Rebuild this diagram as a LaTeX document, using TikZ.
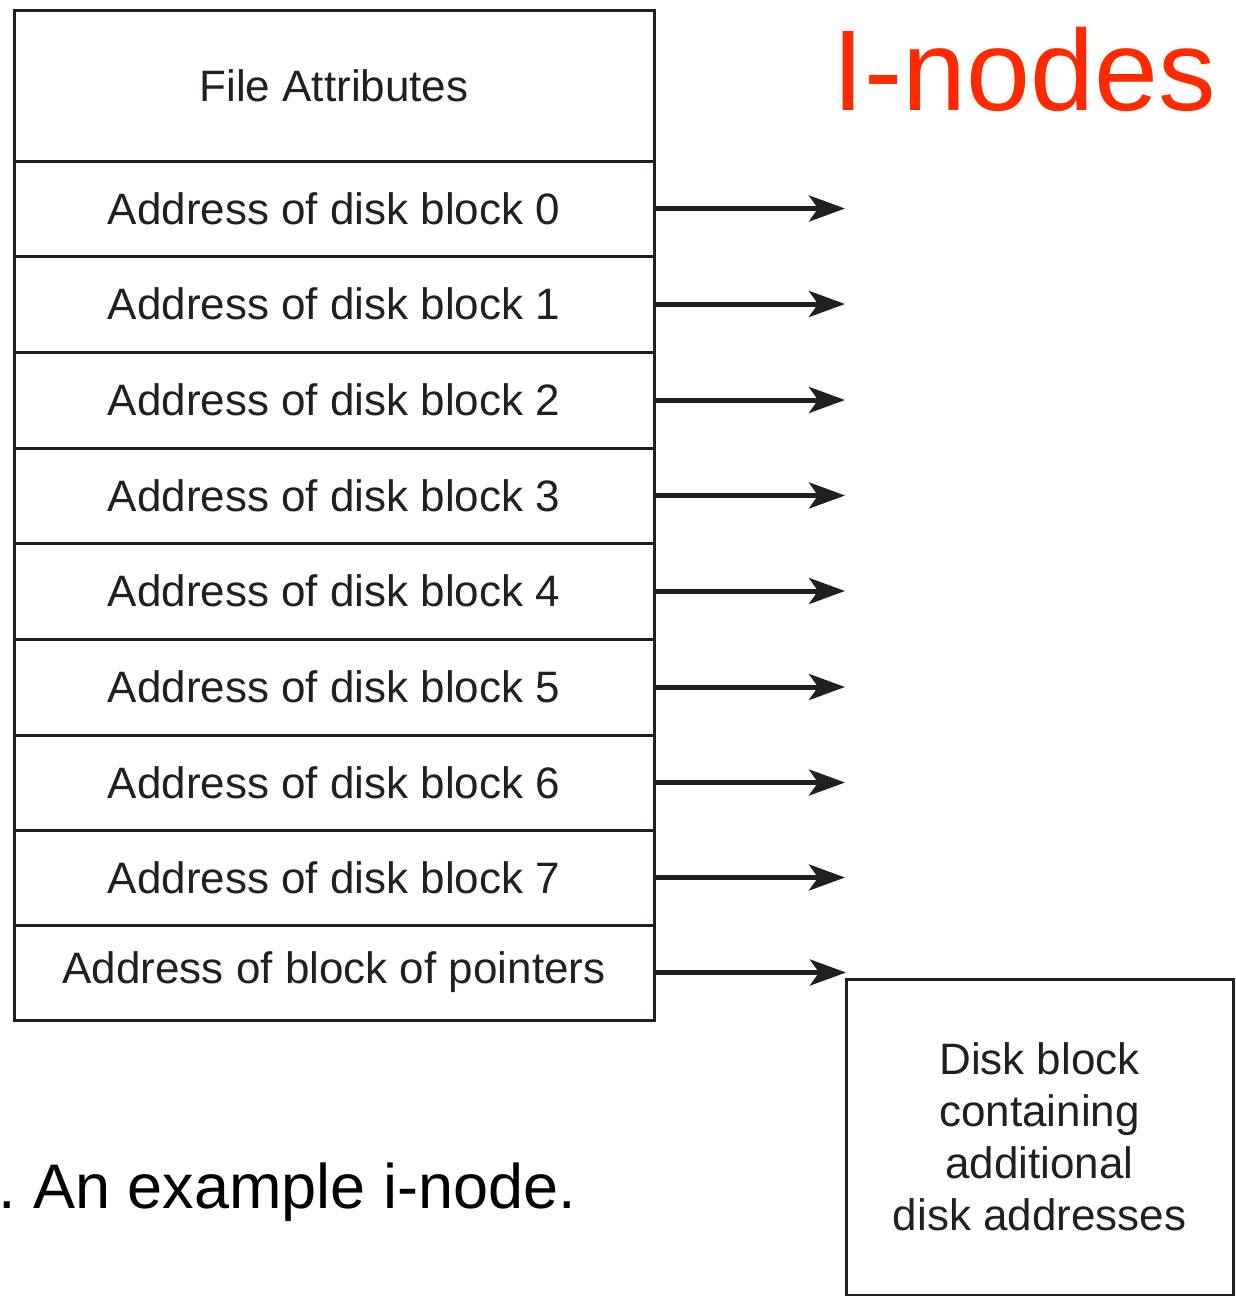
\documentclass[tikz,border=0pt]{standalone}
\usepackage{fontspec}
\setmainfont{Liberation Sans}
\usetikzlibrary{arrows.meta}
\definecolor{ink}{HTML}{231F20}
\definecolor{titlered}{HTML}{FF2A00}
\tikzset{
  cell/.style={draw=ink, line width=3pt, minimum width=640pt, inner sep=0pt, outer sep=0pt,
    text=ink, font=\fontsize{44pt}{52pt}\selectfont, anchor=north west},
  arr/.style={draw=ink, line width=5pt, -{Stealth[length=36pt, width=26pt, inset=9pt]}},
}
\begin{document}
\frenchspacing
\begin{tikzpicture}[x=1pt, y=-1pt]
\useasboundingbox (0,0) rectangle (1235,1296);
% title
\node[text=titlered, font=\fontsize{115pt}{120pt}\selectfont, anchor=base west] (title) at (829,110) {I-nodes};
% rows
\node[cell, minimum height=151pt] (fa) at (14,10) {File Attributes};
\node[cell, minimum height=95pt] (r0) at (14,161) {Address of disk block 0};
\node[cell, minimum height=96pt] (r1) at (14,256) {Address of disk block 1};
\node[cell, minimum height=96pt] (r2) at (14,352) {Address of disk block 2};
\node[cell, minimum height=95pt] (r3) at (14,448) {Address of disk block 3};
\node[cell, minimum height=96pt] (r4) at (14,543) {Address of disk block 4};
\node[cell, minimum height=96pt] (r5) at (14,639) {Address of disk block 5};
\node[cell, minimum height=95pt] (r6) at (14,735) {Address of disk block 6};
\node[cell, minimum height=95pt] (r7) at (14,830) {Address of disk block 7};
\node[cell, minimum height=95pt] (rp) at (14,925) {Address of block of pointers};
% disk block
\node[cell, minimum width=387pt, minimum height=316pt, align=center] (disk) at (846,979)
  {Disk block\\containing\\additional\\disk addresses};
% arrow end column
\coordinate (tip) at (845,0);
\foreach \r in {r0,r1,r2,r3,r4,r5,r6,r7}{
  \draw[arr] (\r.east) -- (\r.east -| tip);
}
\draw[arr] (rp.east) -- (rp.east -| disk.north west);
% caption
\node[text=black, font=\fontsize{63pt}{70pt}\selectfont, anchor=base west, inner sep=0pt] (cap) at (-2,1208) {. An example i-node.};
\end{tikzpicture}
\end{document}
